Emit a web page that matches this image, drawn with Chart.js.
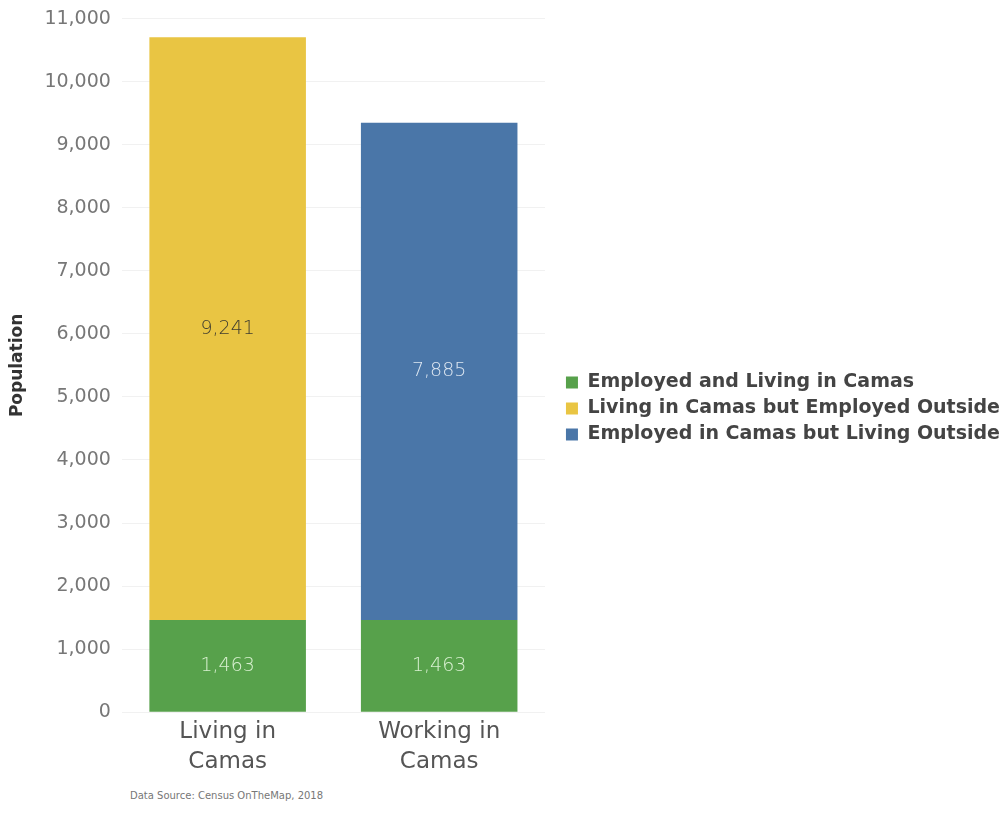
<!DOCTYPE html>
<html>
<head>
<meta charset="utf-8">
<script src="https://cdn.jsdelivr.net/npm/chart.js@4.4.0/dist/chart.umd.min.js"></script>
<style>
  body { margin: 0; background: #fff; }
  #wrap { position: relative; width: 1007px; height: 832px; }
  #source { position: absolute; left: 130px; top: 790px; font: 10px "DejaVu Sans", sans-serif; color: #777; }
</style>
</head>
<body>
<div id="wrap">
  <canvas id="commuteChart" width="1007" height="790"></canvas>
  <div id="source">Data Source: Census OnTheMap, 2018</div>
</div>
<script>
const categories = [["Living in", "Camas"], ["Working in", "Camas"]];
const seriesNames = ["Employed and Living in Camas", "Living in Camas but Employed Outside", "Employed in Camas but Living Outside"];
const employedAndLiving = [1463, 1463];
const livingOutside = [9241, null];
const employedOutside = [null, 7885];
const yTicks = [0, 1000, 2000, 3000, 4000, 5000, 6000, 7000, 8000, 9000, 10000, 11000];

// draws the value in the middle of each stacked piece
const segmentLabels = {
  id: 'segmentLabels',
  afterDatasetsDraw(chart) {
    const ctx = chart.ctx;
    ctx.save();
    ctx.font = '300 19px "DejaVu Sans", sans-serif';
    ctx.textAlign = 'center';
    ctx.textBaseline = 'middle';
    chart.data.datasets.forEach((ds, i) => {
      chart.getDatasetMeta(i).data.forEach((bar, j) => {
        const v = ds.data[j];
        if (v == null) return;
        const mid = (bar.y + bar.base) / 2;
        ctx.fillStyle = ds.labelColor;
        ctx.fillText(v.toLocaleString('en-US'), bar.x, mid);
      });
    });
    ctx.restore();
  }
};

// nudge the legend a little away from the plot, like the original
const legendNudge = {
  id: 'legendNudge',
  afterLayout(chart) {
    chart.legend.left += 14;
    chart.legend.right += 14;
  }
};

new Chart(document.getElementById('commuteChart'), {
  type: 'bar',
  data: {
    labels: categories,
    datasets: [{
      label: seriesNames[0],
      data: employedAndLiving,
      backgroundColor: '#57a14b',
      labelColor: '#d8f0d0'
    }, {
      label: seriesNames[1],
      data: livingOutside,
      backgroundColor: '#e9c543',
      labelColor: '#3f3d30'
    }, {
      label: seriesNames[2],
      data: employedOutside,
      backgroundColor: '#4a76a8',
      labelColor: '#dfe8f2'
    }]
  },
  options: {
    responsive: false,
    animation: false,
    datasets: { bar: { barPercentage: 0.74, categoryPercentage: 1 } },
    layout: { padding: { top: 1, right: 11, bottom: 8, left: 7 } },
    plugins: {
      legend: {
        position: 'right',
        maxWidth: 600,
        title: { display: true, text: ' ', font: { size: 10 }, padding: 11 },
        labels: {
          boxWidth: 12,
          boxHeight: 12,
          padding: 7,
          color: '#444',
          font: { family: '"DejaVu Sans", sans-serif', size: 19, weight: 'bold' }
        }
      },
      tooltip: { enabled: false }
    },
    scales: {
      x: {
        stacked: true,
        grid: { display: false, drawTicks: false },
        border: { display: false },
        ticks: {
          color: '#555',
          padding: 5,
          font: { family: '"DejaVu Sans", sans-serif', size: 23, lineHeight: 1.3 }
        }
      },
      y: {
        stacked: true,
        min: 0,
        max: yTicks[yTicks.length - 1],
        afterBuildTicks(axis) { axis.ticks = yTicks.map(v => ({ value: v })); },
        grid: { color: '#f1f1f1', drawTicks: false },
        border: { display: false },
        ticks: {
          color: '#777',
          padding: 11,
          font: { family: '"DejaVu Sans", sans-serif', size: 19, lineHeight: 0.8 },
          callback: v => v.toLocaleString('en-US')
        },
        title: {
          display: true,
          text: 'Population',
          color: '#333',
          padding: { top: 0, bottom: 6 },
          font: { family: '"DejaVu Sans", sans-serif', size: 17, weight: 'bold' }
        }
      }
    }
  },
  plugins: [segmentLabels, legendNudge]
});
</script>
</body>
</html>
